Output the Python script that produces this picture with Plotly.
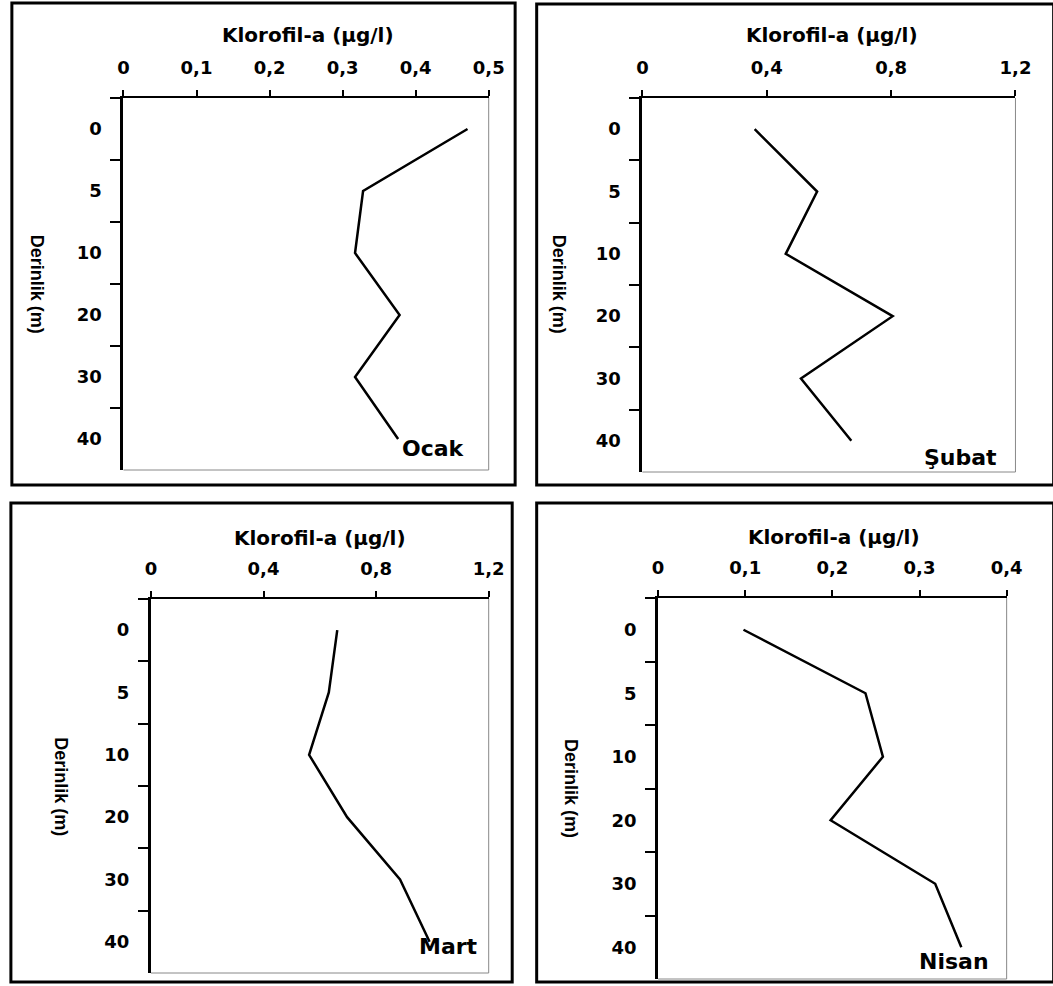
import plotly.graph_objects as go

# ---------------- data ----------------
depth_labels = ["0", "5", "10", "20", "30", "40"]
ocak = [0.471, 0.328, 0.317, 0.378, 0.317, 0.376]
subat = [0.361, 0.562, 0.461, 0.805, 0.510, 0.672]
mart = [0.662, 0.632, 0.562, 0.697, 0.885, 0.990]
nisan = [0.098, 0.238, 0.258, 0.198, 0.318, 0.348]
month_names = ["Ocak", "Şubat", "Mart", "Nisan"]
x_max = [0.5, 1.2, 1.2, 0.4]
x_step = [0.1, 0.4, 0.4, 0.1]
x_title = "Klorofil-a (µg/l)"
y_title = "Derinlik (m)"

series = [ocak, subat, mart, nisan]

# ---------------- layout geometry (pixels) ----------------
W, H = 1053, 986
# plot areas: (left, right, top, bottom)
plots = [(120, 493, 98, 470), (650, 1031, 98, 472), (148, 493, 599, 973), (666, 1022, 598, 979)]
# outer frames
frames = [(6, 520, 3, 485), (542, 1070, 4, 485), (5, 517, 503, 982), (542, 1070, 503, 982)]
# annotation centres
xtitle_pos = [(308, 35), (844, 35), (321, 538), (846, 537)]
ytitle_pos = [(32, 284), (565, 284), (56, 787), (577, 789)]
month_pos = [(437, 448), (975, 457), (452, 946), (968, 961)]

def px(x):
    return x / W

def py(y):
    return 1 - y / H

tick_font = dict(family="DejaVu Sans", size=18, color="black", weight="bold")

fig = go.Figure()
layout = dict(
    width=W, height=H,
    margin=dict(l=0, r=0, t=0, b=0),
    paper_bgcolor="white", plot_bgcolor="white",
    showlegend=False,
    separators=", ",
    shapes=[], annotations=[],
)

for i, vals in enumerate(series):
    n = "" if i == 0 else str(i + 1)
    xa, ya = "x" + n, "y" + n
    fig.add_trace(go.Scatter(x=vals, y=depth_labels, mode="lines",
                             line=dict(color="black", width=2.5),
                             xaxis=xa, yaxis=ya, hoverinfo="skip"))
    l, r, t, b = plots[i]
    layout["xaxis" + n] = dict(
        domain=[px(l), px(r)], anchor=ya, side="top",
        range=[0, x_max[i]], dtick=x_step[i], tick0=0,
        showgrid=False, zeroline=False,
        showline=True, linecolor="black", linewidth=2,
        ticks="outside", ticklen=6, tickwidth=2, tickcolor="black",
        tickfont=tick_font, ticklabelstandoff=9,
    )
    layout["yaxis" + n] = dict(
        domain=[py(b), py(t)], anchor=xa,
        type="category", categoryorder="array", categoryarray=depth_labels,
        range=[5.5, -0.5],
        tickson="boundaries",
        showgrid=False, zeroline=False,
        showline=True, linecolor="black", linewidth=3,
        ticks="outside", ticklen=10, tickwidth=2, tickcolor="black",
        tickfont=tick_font, ticklabelstandoff=15,
    )
    # thin grey right and bottom edges of plot area
    layout["shapes"].append(dict(type="line", xref="paper", yref="paper",
                                 x0=px(r), x1=px(r), y0=py(t), y1=py(b),
                                 line=dict(color="#888888", width=1), layer="below"))
    layout["shapes"].append(dict(type="line", xref="paper", yref="paper",
                                 x0=px(l), x1=px(r), y0=py(b), y1=py(b),
                                 line=dict(color="#888888", width=1), layer="below"))
    # outer frame
    fl, fr, ft, fb = frames[i]
    layout["shapes"].append(dict(type="rect", xref="paper", yref="paper",
                                 x0=px(fl), x1=px(fr), y0=py(fb), y1=py(ft),
                                 line=dict(color="black", width=3)))
    # titles
    layout["annotations"].append(dict(text=x_title, xref="paper", yref="paper",
                                      x=px(xtitle_pos[i][0]), y=py(xtitle_pos[i][1]),
                                      xanchor="center", yanchor="middle", showarrow=False,
                                      font=dict(family="DejaVu Sans", size=20, color="black", weight="bold")))
    layout["annotations"].append(dict(text=y_title, xref="paper", yref="paper",
                                      x=px(ytitle_pos[i][0]), y=py(ytitle_pos[i][1]),
                                      xanchor="center", yanchor="middle", showarrow=False, textangle=90,
                                      font=dict(family="Liberation Sans", size=18,
                                                color="black", weight="bold")))
    layout["annotations"].append(dict(text=month_names[i], xref="paper", yref="paper",
                                      x=px(month_pos[i][0]), y=py(month_pos[i][1]),
                                      xanchor="center", yanchor="middle", showarrow=False,
                                      font=dict(family="DejaVu Sans", size=22, color="black", weight="bold")))

fig.update_layout(**layout)
fig.write_html("out.html")
